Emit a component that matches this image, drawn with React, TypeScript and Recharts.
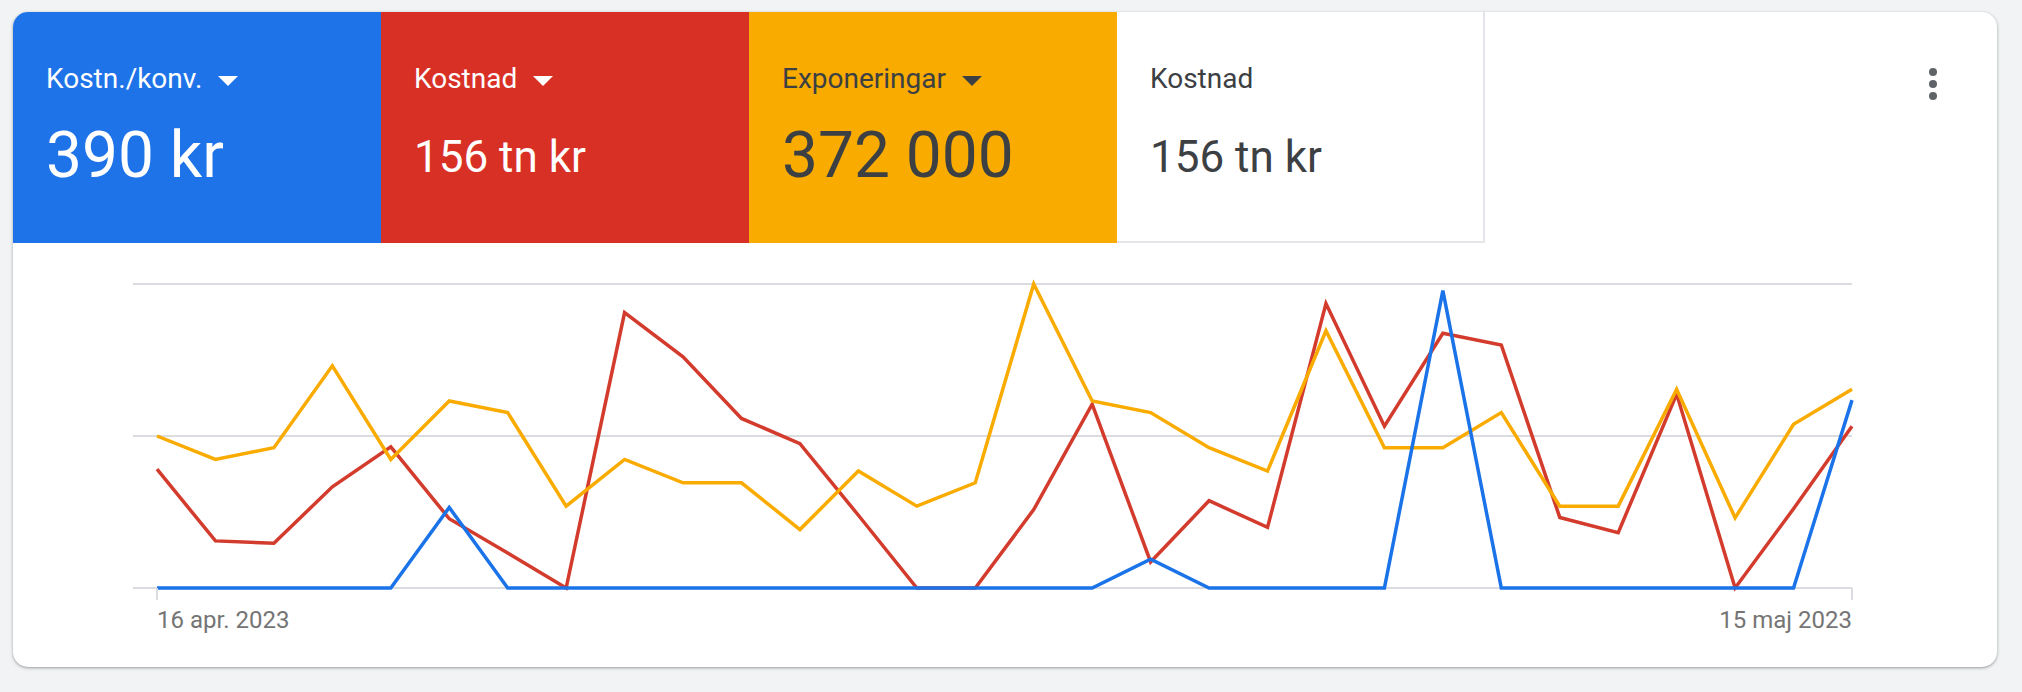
import React from 'react';
import { LineChart, Line, XAxis, YAxis, CartesianGrid } from 'recharts';

// daily dates shown on the x axis (only first and last get a label)
const dates = [
  '16 apr. 2023', '17 apr. 2023', '18 apr. 2023', '19 apr. 2023', '20 apr. 2023',
  '21 apr. 2023', '22 apr. 2023', '23 apr. 2023', '24 apr. 2023', '25 apr. 2023',
  '26 apr. 2023', '27 apr. 2023', '28 apr. 2023', '29 apr. 2023', '30 apr. 2023',
  '1 maj 2023', '2 maj 2023', '3 maj 2023', '4 maj 2023', '5 maj 2023',
  '6 maj 2023', '7 maj 2023', '8 maj 2023', '9 maj 2023', '10 maj 2023',
  '11 maj 2023', '12 maj 2023', '13 maj 2023', '14 maj 2023', '15 maj 2023',
];

// Kostn./konv. (kr)
const costPerConv = [
  0, 0, 0, 0, 0, 265, 0, 0, 0, 0,
  0, 0, 0, 0, 0, 0, 0, 95, 0, 0,
  0, 0, 978, 0, 0, 0, 0, 0, 0, 618,
];

// Kostnad (kr)
const cost = [
  5470, 2170, 2060, 4660, 6500, 3190, 1610, 0, 12680, 10650,
  7810, 6650, 3350, 0, 0, 3610, 8470, 1200, 4020, 2790,
  13100, 7450, 11730, 11190, 3250, 2550, 8930, 0, 3650, 7450,
];

// Exponeringar
const impressions = [
  13000, 11000, 12000, 19000, 11000, 16000, 15000, 7000, 11000, 9000,
  9000, 5000, 10000, 7000, 9000, 26000, 16000, 15000, 12000, 10000,
  22000, 12000, 12000, 15000, 7000, 7000, 17000, 6000, 14000, 17000,
];

const tickDates = [dates[0], dates[dates.length - 1]];

const tiles = [
  { label: 'Kostn./konv.', value: '390 kr', bg: '#1e73e8', fg: '#ffffff', big: true, arrow: true },
  { label: 'Kostnad', value: '156 tn kr', bg: '#d93025', fg: '#ffffff', big: false, arrow: true },
  { label: 'Exponeringar', value: '372 000', bg: '#f9ab00', fg: '#3c4043', big: true, arrow: true },
  { label: 'Kostnad', value: '156 tn kr', bg: '#ffffff', fg: '#3c4043', big: false, arrow: false },
];

const data = dates.map((d, i) => ({
  date: d,
  cpa: costPerConv[i],
  cost: cost[i],
  imp: impressions[i],
}));

const font = 'Roboto, "Noto Sans", Arial, sans-serif';

const DateTick = (props: any) => {
  const { x, y, payload } = props;
  const first = payload.value === tickDates[0];
  return (
    <text
      x={x}
      y={y + 28}
      textAnchor={first ? 'start' : 'end'}
      fill="#757575"
      fontSize={24}
      fontFamily={font}
    >
      {payload.value}
    </text>
  );
};

const Tile = ({ t, i }: { t: typeof tiles[number]; i: number }) => {
  const valueSize = t.big ? 64 : 44;
  const last = i === tiles.length - 1;
  return (
    <div
      style={{
        position: 'absolute',
        left: i * 368,
        top: 0,
        width: 368,
        height: 231,
        background: t.bg,
        color: t.fg,
        boxSizing: 'border-box',
        borderRight: last ? '2px solid #e3e5e8' : 'none',
        borderBottom: last ? '2px solid #e3e5e8' : 'none',
      }}
    >
      <div
        style={{
          position: 'absolute',
          left: 33,
          top: 53,
          fontSize: 28,
          lineHeight: '28px',
          display: 'flex',
          alignItems: 'center',
          whiteSpace: 'nowrap',
        }}
      >
        <span>{t.label}</span>
        {t.arrow && (
          <span
            style={{
              display: 'inline-block',
              marginLeft: 16,
              marginTop: 3,
              width: 0,
              height: 0,
              borderLeft: '10px solid transparent',
              borderRight: '10px solid transparent',
              borderTop: `10px solid ${t.fg}`,
            }}
          />
        )}
      </div>
      <div
        style={{
          position: 'absolute',
          left: 33,
          top: (t.big ? 178 : 172) - 12 - valueSize * 0.842,
          fontSize: valueSize,
          lineHeight: `${valueSize}px`,
          whiteSpace: 'nowrap',
        }}
      >
        {t.value}
      </div>
    </div>
  );
};

export default function App() {
  return (
    <div
      style={{
        position: 'absolute',
        left: 0,
        top: 0,
        width: 2022,
        height: 692,
        background: '#f1f3f4',
        overflow: 'hidden',
        fontFamily: font,
      }}
    >
      <div
        style={{
          position: 'absolute',
          left: 13,
          top: 12,
          width: 1984,
          height: 655,
          background: '#ffffff',
          borderRadius: 15,
          overflow: 'hidden',
          boxShadow: '0 1px 2px rgba(60,64,67,0.3), 0 1px 3px 1px rgba(60,64,67,0.15)',
        }}
      >
        {tiles.map((t, i) => (
          <Tile key={i} t={t} i={i} />
        ))}

        {[0, 1, 2].map((k) => (
          <div
            key={k}
            style={{
              position: 'absolute',
              left: 1916,
              top: 56 + k * 12,
              width: 8,
              height: 8,
              borderRadius: 4,
              background: '#5f6368',
            }}
          />
        ))}

        <div style={{ position: 'absolute', left: 0, top: 238 }}>
          <LineChart
            width={1984}
            height={400}
            data={data}
            margin={{ top: 34, right: 145, bottom: 12, left: 120 }}
          >
            <CartesianGrid
              yAxisId="imp"
              vertical={false}
              stroke="#dadce0"
              strokeWidth={2}
            />
            <XAxis
              dataKey="date"
              ticks={tickDates}
              interval={0}
              padding={{ left: 24, right: 0 }}
              axisLine={false}
              tickLine={{ stroke: '#dadce0', strokeWidth: 2 }}
              tickSize={12}
              tickMargin={0}
              height={50}
              tick={<DateTick />}
            />
            <YAxis yAxisId="imp" hide domain={[0, 26000]} ticks={[0, 13000, 26000]} />
            <YAxis yAxisId="cost" hide domain={[0, 14000]} />
            <YAxis yAxisId="cpa" hide domain={[0, 1000]} />
            <Line
              yAxisId="cost"
              type="linear"
              dataKey="cost"
              stroke="#d33b2d"
              strokeWidth={3.5}
              dot={false}
              activeDot={false}
              isAnimationActive={false}
            />
            <Line
              yAxisId="imp"
              type="linear"
              dataKey="imp"
              stroke="#f9ab00"
              strokeWidth={3.5}
              dot={false}
              activeDot={false}
              isAnimationActive={false}
            />
            <Line
              yAxisId="cpa"
              type="linear"
              dataKey="cpa"
              stroke="#1a73e8"
              strokeWidth={3.5}
              dot={false}
              activeDot={false}
              isAnimationActive={false}
            />
          </LineChart>
        </div>
      </div>
    </div>
  );
}
